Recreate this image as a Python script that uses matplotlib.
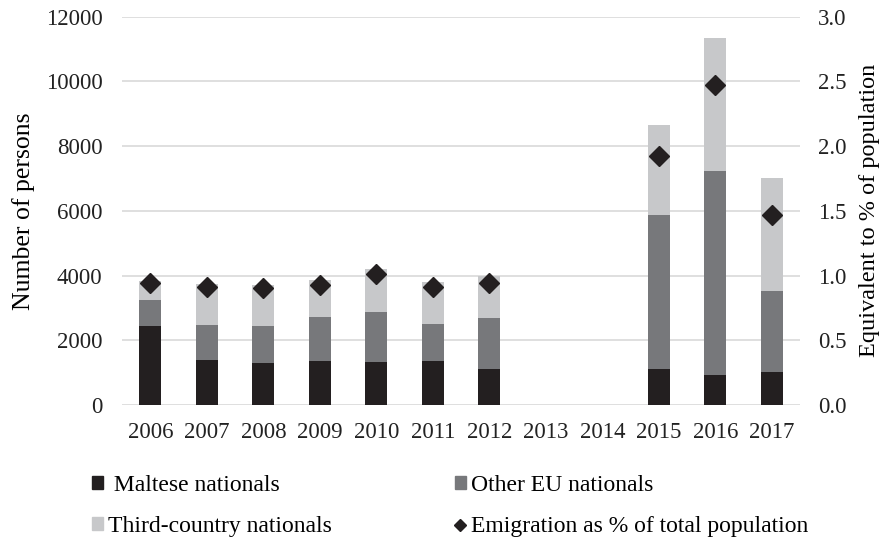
import numpy as np
import matplotlib.pyplot as plt
from matplotlib.patches import Patch
from matplotlib.lines import Line2D

plt.rcParams['font.family'] = ['Liberation Serif', 'DejaVu Serif']

# Data
years = ['2006', '2007', '2008', '2009', '2010', '2011', '2012',
         '2013', '2014', '2015', '2016', '2017']
maltese = [2440, 1390, 1290, 1370, 1340, 1360, 1100, np.nan, np.nan, 1110, 940, 1010]
other_eu = [800, 1070, 1150, 1360, 1545, 1145, 1590, np.nan, np.nan, 4760, 6300, 2510]
third = [600, 1270, 1270, 1130, 1320, 1290, 1310, np.nan, np.nan, 2770, 4110, 3490]
emig_pct = [0.94, 0.915, 0.90, 0.93, 1.01, 0.91, 0.945, np.nan, np.nan, 1.92, 2.47, 1.47]

c_malt = '#231f20'
c_eu = '#77787b'
c_third = '#c7c8ca'

fig = plt.figure(figsize=(8.91, 5.41), dpi=100)
ax = fig.add_axes([0.137, 0.2514, 0.761, 0.7178])
x = np.arange(len(years))
w = 0.39

m = np.nan_to_num(maltese)
e = np.nan_to_num(other_eu)
t = np.nan_to_num(third)
ax.bar(x, m, w, color=c_malt, zorder=2)
ax.bar(x, e, w, bottom=m, color=c_eu, zorder=2)
ax.bar(x, t, w, bottom=m + e, color=c_third, zorder=2)

ax.set_xlim(-0.5, len(years) - 0.5)
ax.set_ylim(0, 12000)
ax.set_yticks(range(0, 12001, 2000))
ax.set_xticks(x)
ax.set_xticklabels(years)
ax.yaxis.grid(True, color='#d9d9d9', linewidth=1.2, zorder=0)
ax.set_axisbelow(True)
for s in ax.spines.values():
    s.set_visible(False)
ax.tick_params(axis='y', length=0, labelsize=16.5, colors='#222222', pad=14)
ax.tick_params(axis='x', length=0, labelsize=16.5, colors='#222222', pad=12)
ax.set_ylabel('Number of persons', fontsize=18.5)
ax.yaxis.set_label_coords(-0.128, 0.5)

ax2 = ax.twinx()
ax2.plot(x, emig_pct, linestyle='none', marker='D', markersize=10,
         color=c_malt, zorder=3)
ax2.set_ylim(0, 3.0)
ax2.set_yticks(np.arange(0, 3.01, 0.5))
ax2.set_yticklabels(['%.1f' % v for v in np.arange(0, 3.01, 0.5)])
for s in ax2.spines.values():
    s.set_visible(False)
ax2.tick_params(length=0, labelsize=16.5, colors='#222222', pad=13)
ax2.set_ylabel('Equivalent to % of population', fontsize=17.5)
ax2.yaxis.set_label_coords(1.0875, 0.5)

handles = [Patch(color=c_malt), Patch(color=c_third), Patch(color=c_eu),
           Line2D([], [], linestyle='none', marker='D', markersize=6.5, color=c_malt)]
labels = [' Maltese nationals', 'Third-country nationals', 'Other EU nationals',
          'Emigration as % of total population']
fig.legend(handles, labels, ncol=2, loc='upper left', bbox_to_anchor=(0.103, 0.122),
           frameon=False, fontsize=17, handlelength=0.47, handleheight=0.47,
           handletextpad=0.22, columnspacing=5.2, labelspacing=0.85,
           borderpad=0, borderaxespad=0)

fig.savefig('out.png', dpi=100)
